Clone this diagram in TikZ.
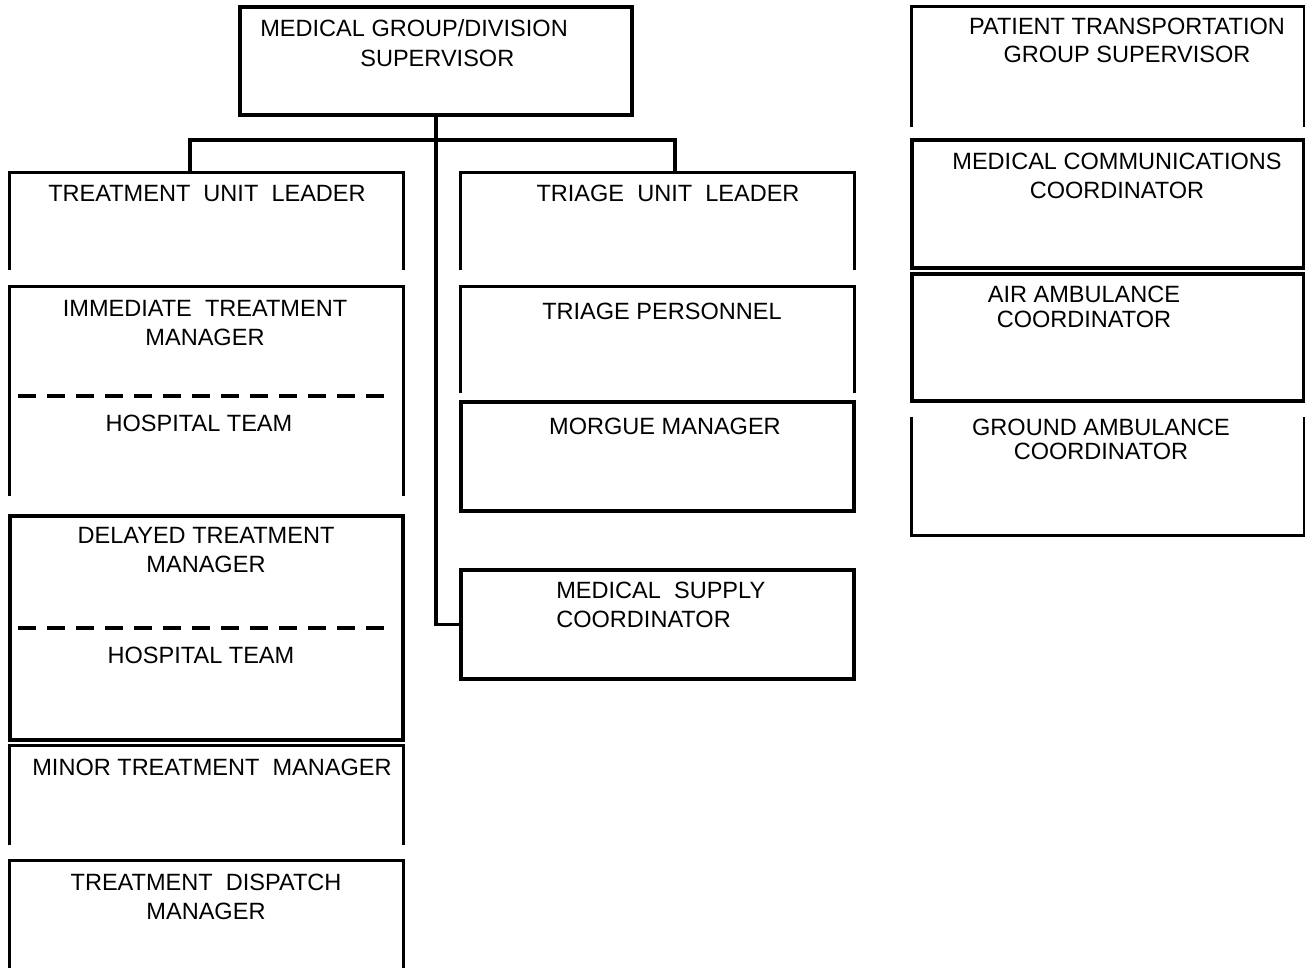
\documentclass[tikz,border=0pt]{standalone}
\usepackage{fontspec}
\setmainfont{Liberation Sans}
\usepackage{tikz}
\usetikzlibrary{positioning, calc}

\begin{document}
\begin{tikzpicture}[
  x=0.02cm, y=-0.02cm,
  box/.style={rectangle, draw, line width=1.8pt, minimum width=7.86cm, inner sep=0pt},
  frame/.style={rectangle, minimum width=7.86cm, inner sep=0pt},
  edge/.style={line width=1.8pt},
  lbl/.style={font=\fontsize{13.4}{16.5}\selectfont, align=center, inner sep=0pt, anchor=north},
  divider/.style={line width=1.8pt, dash pattern=on 0.36cm off 0.22cm}
]
  \useasboundingbox (0,0) rectangle (1305,968);

  % Supervisor
  \node[box, minimum width=7.84cm, minimum height=2.16cm] (sup) at (436,61) {};
  \node[lbl, font=\fontsize{13.4}{17}\selectfont, align=left, anchor=north west] (supt) at (260,19.5) {MEDICAL GROUP/DIVISION\\\hspace*{2cm}SUPERVISOR};

  % Treatment column
  \node[frame, minimum height=1.94cm] (tul) at (206.5,221.5) {};
  \node[lbl] (tult) at (207,184.5) {TREATMENT~~UNIT~~LEADER};
  \node[frame, minimum height=4.18cm] (imm) at (206.5,391.5) {};
  \node[lbl] (immt) at (205,299.5) {IMMEDIATE~~TREATMENT\\MANAGER};
  \node[lbl] (immh) at (199,414.5) {HOSPITAL TEAM};
  \node[box, minimum height=4.48cm] (del) at (206.5,628) {};
  \node[lbl] (delt) at (206,526.5) {DELAYED TREATMENT\\MANAGER};
  \node[lbl] (delh) at (201,646.5) {HOSPITAL TEAM};
  \node[frame, minimum height=1.98cm] (min) at (206.5,795.5) {};
  \node[lbl] (mint) at (212,758.5) {MINOR TREATMENT~~MANAGER};
  \node[frame, minimum height=2.14cm] (dis) at (206.5,914.5) {};
  \node[lbl] (dist) at (206,873.5) {TREATMENT~~DISPATCH\\MANAGER};

  % Triage column
  \node[frame, minimum height=1.94cm] (tri) at (657.5,221.5) {};
  \node[lbl] (trit) at (668,184.5) {TRIAGE~~UNIT~~LEADER};
  \node[frame, minimum height=2.12cm] (per) at (657.5,340) {};
  \node[lbl] (pert) at (662,302.5) {TRIAGE PERSONNEL};
  \node[box, minimum height=2.18cm] (mor) at (657.5,456.5) {};
  \node[lbl] (mort) at (665,417.5) {MORGUE MANAGER};
  \node[box, minimum height=2.18cm] (sply) at (657.5,624.5) {};
  \node[lbl, align=left, anchor=north west] (splyt) at (556,581.5) {MEDICAL~~SUPPLY\\COORDINATOR};

  % Transportation column
  \node[frame, minimum width=7.84cm, minimum height=2.4cm] (pat) at (1108,67) {};
  \node[lbl, font=\fontsize{13.4}{15.9}\selectfont] (patt) at (1127,17.5) {PATIENT TRANSPORTATION\\GROUP SUPERVISOR};
  \node[box, minimum width=7.84cm, minimum height=2.56cm] (com) at (1108,204) {};
  \node[lbl] (comt) at (1117,152.5) {MEDICAL COMMUNICATIONS\\COORDINATOR};
  \node[box, minimum width=7.84cm, minimum height=2.54cm] (air) at (1108,337.5) {};
  \node[lbl, font=\fontsize{13.4}{14.2}\selectfont] (airt) at (1084,285.5) {AIR AMBULANCE\\COORDINATOR};
  \node[frame, minimum width=7.84cm, minimum height=2.36cm] (gnd) at (1108,476) {};
  \node[lbl, font=\fontsize{13.4}{13.7}\selectfont] (gndt) at (1101,418.5) {GROUND AMBULANCE\\COORDINATOR};

  % Open frames
  \draw[edge] (tul.south west) |- (tul.north east) -- (tul.south east);
  \draw[edge] (imm.south west) |- (imm.north east) -- (imm.south east);
  \draw[edge] (min.south west) |- (min.north east) -- (min.south east);
  \draw[edge] (dis.south west) |- (dis.north east) -- (dis.south east);
  \draw[edge] (tri.south west) |- (tri.north east) -- (tri.south east);
  \draw[edge] (per.south west) |- (per.north east) -- (per.south east);
  \draw[edge] (pat.south west) |- (pat.north east) -- (pat.south east);
  \draw[edge] (gnd.north west) |- (gnd.south east) -- (gnd.north east);

  % Dividers
  \draw[divider] (18,396) -- (390,396);
  \draw[divider] (18,628) -- (390,628);

  % Connectors
  \coordinate (bar) at (436,140);
  \draw[edge] (sup.south) |- (sply.west);
  \draw[edge] ([xshift=-0.33cm]tul.north) |- (bar) -| ([xshift=0.35cm]tri.north);
\end{tikzpicture}
\end{document}
